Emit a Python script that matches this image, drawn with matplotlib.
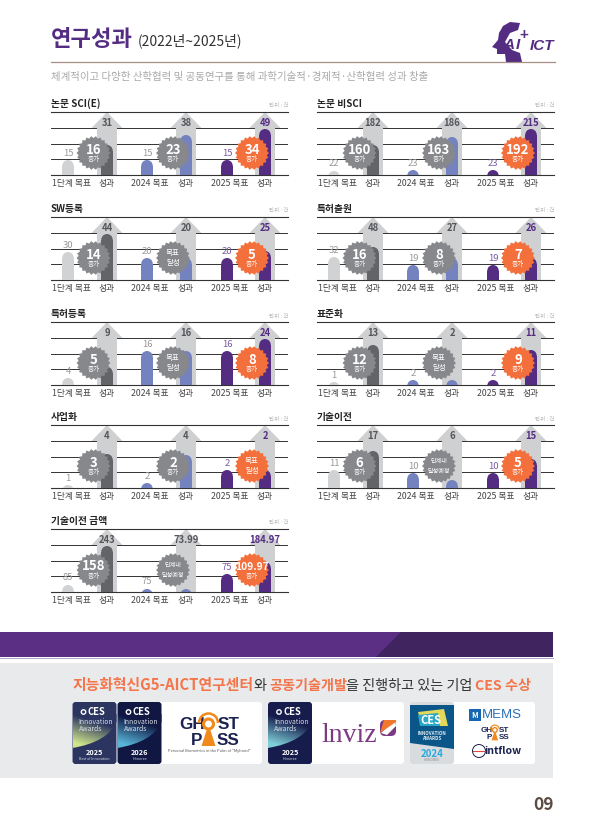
import numpy as np
import matplotlib
matplotlib.use("Agg")
import matplotlib.pyplot as plt
from matplotlib.patches import FancyBboxPatch, Circle, PathPatch, Polygon, Arc
from matplotlib.path import Path

plt.rcParams['font.family'] = ['Noto Sans CJK KR', 'DejaVu Sans']

# data
panel_titles = ["논문 SCI(E)", "논문 비SCI", "SW등록", "특허출원", "특허등록", "표준화", "사업화", "기술이전", "기술이전 금액"]
target_1 = ["15", "22", "30", "32", "4", "1", "1", "11", "85"]
result_1 = ["31", "182", "44", "48", "9", "13", "4", "17", "243"]
target_2 = ["15", "23", "20", "19", "16", "2", "2", "10", "75"]
result_2 = ["38", "186", "20", "27", "16", "2", "4", "6", "73.99"]
target_3 = ["15", "23", "20", "19", "16", "2", "2", "10", "75"]
result_3 = ["49", "215", "25", "26", "24", "11", "2", "15", "184.97"]
# drawn height of the bars, the page scales every group by itself
height_t1 = [15, 4, 28, 23, 7, 3, 3, 18, 7]
height_r1 = [30, 30, 46, 33, 18, 40, 34, 37, 46]
height_t2 = [15, 5, 22, 15, 34, 5, 5, 15, 3]
height_r2 = [40, 38, 22, 22, 34, 5, 33, 8, 3]
height_t3 = [15, 5, 22, 15, 34, 5, 18, 15, 18]
height_r3 = [46, 46, 29, 22, 46, 35, 18, 29, 30]
badge_1 = ["16", "160", "14", "16", "5", "12", "3", "6", "158"]
badge_2 = ["23", "163", "목표\n달성", "8", "목표\n달성", "목표\n달성", "2", "단계내\n달성예정", "단계내\n달성예정"]
badge_3 = ["34", "192", "5", "7", "8", "9", "목표\n달성", "5", "109.97"]
x_labels = ["1단계 목표", "성과", "2024 목표", "성과", "2025 목표", "성과"]

panel_left = [51, 317]
panel_base = [175, 280, 385, 488, 592]
panel_w = 237
panel_h = 63
bar_x = np.array([17, 56, 96, 135, 176, 214])
label_x = bar_x + np.array([3, 0, 3, 0, 3, 0])
bar_w = 11.5

c_light = "#d1d2d4"
c_dark = "#636468"
c_blue = "#7483bf"
c_purple = "#542d83"
c_arrow = "#cfd0d2"
c_badge = "#87888b"
c_orange = "#f36f3c"

fig = plt.figure(figsize=(5.95, 8.38), dpi=100)
page = fig.add_axes([0, 0, 1, 1])


def round_bar(ax, x, h, color):
    r = bar_w / 2
    if h > r:
        ax.bar(x, h - r, bar_w, color=color, zorder=3)
    ax.add_patch(Circle((x, h - r), r, color=color, lw=0, zorder=3))


def up_arrow(ax, x):
    xs = [x - 10, x - 10, x - 15.5, x, x + 15.5, x + 10, x + 10]
    ys = [0, 47, 47, 63, 47, 47, 0]
    ax.fill(xs, ys, color=c_arrow, lw=0, zorder=2)


def badge(ax, x, y, txt, color):
    n = 22
    ang = np.linspace(0, 2 * np.pi, n * 2, endpoint=False)
    rad = np.where(np.arange(n * 2) % 2 == 0, 17, 15)
    ax.fill(x + rad * np.cos(ang), y + rad * np.sin(ang), color=color, lw=0, zorder=5)
    if "\n" in txt:
        small = 4.4 if len(txt) > 6 else 5.4
        ax.text(x, y, txt, color="white", fontsize=small, ha="center", va="center", linespacing=1.25, zorder=6)
    else:
        big = 7.4 if len(txt) > 4 else 9.5
        ax.text(x, y + 3.5, txt, color="white", fontsize=big, fontweight="bold", ha="center", va="center", zorder=6)
        ax.text(x, y - 6, "증가", color="white", fontsize=4.8, ha="center", va="center", zorder=6)


for i, title in enumerate(panel_titles):
    left = panel_left[i % 2]
    base = panel_base[i // 2]
    ax = fig.add_axes([left / 595, (838 - base) / 838, panel_w / 595, panel_h / 838])
    ax.patch.set_visible(False)
    ax.set_xlim(0, panel_w)
    ax.set_ylim(0, panel_h)
    for s in ["left", "right"]:
        ax.spines[s].set_visible(False)
    for s in ["top", "bottom"]:
        ax.spines[s].set_linewidth(0.8)
        ax.spines[s].set_color("#333333")
    ax.set_yticks([16, 31, 47])
    ax.set_yticklabels([])
    ax.grid(axis="y", color="#333333", lw=0.7)
    ax.set_axisbelow(True)
    ax.tick_params(length=0)
    ax.set_xticks(label_x, x_labels, fontsize=6.3, color="#444444")
    ax.tick_params(axis="x", pad=3)

    heights = [height_t1[i], height_r1[i], height_t2[i], height_r2[i], height_t3[i], height_r3[i]]
    colors = [c_light, c_dark, c_blue, c_blue, c_purple, c_purple]
    labels = [target_1[i], result_1[i], target_2[i], result_2[i], target_3[i], result_3[i]]
    for j in range(6):
        if j % 2 == 1:
            up_arrow(ax, bar_x[j])
    for j in range(6):
        round_bar(ax, bar_x[j], heights[j], colors[j])
        if j % 2 == 0:
            tcol = "#7a5aa5" if j == 4 else "#999999"
            ax.text(bar_x[j], heights[j] + 7, labels[j], color=tcol, fontsize=6.8, ha="center", va="center", zorder=4)
        else:
            tcol = c_purple if j == 5 else "#55565a"
            ax.text(bar_x[j], 52, labels[j], color=tcol, fontsize=6.8, fontweight="bold", ha="center", va="center", zorder=4)
    badge(ax, bar_x[1] - 13.5, 22, badge_1[i], c_badge)
    badge(ax, bar_x[3] - 13, 22, badge_2[i], c_badge)
    badge(ax, bar_x[5] - 13, 22, badge_3[i], c_orange)
    ax.text(0, 71, title, fontsize=7, fontweight="bold", color="#222222", ha="left", va="center", clip_on=False)
    ax.text(panel_w, 69, "단위 : 건", fontsize=4, color="#b5b5b5", ha="right", va="center", clip_on=False)

# header
page.text(51, 39.5, "연구성과", fontsize=16, fontweight="bold", color=c_purple, va="center")
page.text(138, 41, "(2022년~2025년)", fontsize=10, color="#333333", va="center")
page.plot([51, 555], [62, 62], color="#a88f85", lw=0.9)
page.text(51, 76.5, "체계적이고 다양한 산학협력 및 공동연구를 통해 과학기술적·경제적·산학협력 성과 창출",
          fontsize=7.55, color="#a9a9a9", va="center")

# logo
head = [(520, 23), (510, 22), (503, 26), (499, 33), (498, 40), (492, 47), (497, 49), (497, 54), (505, 54),
        (506, 62), (522, 62), (520, 53), (512, 50), (505, 42), (510, 33), (518, 30)]
page.add_patch(Polygon(head, closed=True, color=c_purple, lw=0))
page.text(509, 45, "A", fontsize=11, fontweight="bold", style="italic", family="Liberation Sans", color=c_purple,
          ha="center", va="center", zorder=4)
page.text(518, 45, "I", fontsize=11, fontweight="bold", style="italic", family="Liberation Sans", color=c_purple,
          ha="center", va="center", zorder=4)
page.text(524, 35, "+", fontsize=11, fontweight="bold", family="Liberation Sans", color=c_purple, ha="center", va="center")
page.text(542, 46, "ICT", fontsize=11, fontweight="bold", style="italic", family="Liberation Sans", color=c_purple,
          ha="center", va="center")

# purple band
page.fill([0, 553, 553, 0], [632, 632, 657, 657], color="#5a2f84", lw=0)
page.fill([401, 553, 553, 376], [632, 632, 657, 657], color="#3f2460", lw=0)
page.plot([0, 553], [657.5, 657.5], color="#b7a5cd", lw=0.7)

# gray box
page.fill([0, 553, 553, 0], [663, 663, 778, 778], color="#e9eaec", lw=0)
c_head = "#f4754a"
head_parts = [(73, "지능화혁신G5-AICT연구센터", c_head, "bold", 10.7), (253.5, "와", "#333333", "normal", 10.2),
              (269.5, "공동기술개발", c_head, "bold", 10.2), (345.5, "을 진행하고 있는 기업", "#333333", "normal", 10.2),
              (475, "CES 수상", c_head, "bold", 10.2)]
for hx, hs, hc, hw, hf in head_parts:
    page.text(hx, 690, hs, fontsize=hf, color=hc, fontweight=hw, va="baseline")


def card(x0, x1):
    page.add_patch(FancyBboxPatch((x0, 702), x1 - x0, 62, boxstyle="round,pad=0,rounding_size=3", fc="white", ec="none"))


def ces_badge(x, year, sub, dark, glow):
    w = 44
    y0, y1 = 702, 764
    box = FancyBboxPatch((x, y0), w, y1 - y0, boxstyle="round,pad=0,rounding_size=3", fc=dark, ec="none", zorder=2)
    page.add_patch(box)
    verts = [(x, y0 + 12), (x + w, y0 + 12), (x + w, y0 + 20), (x + w * 0.8, y0 + 40), (x, y0 + 46), (x, y0 + 12)]
    codes = [Path.MOVETO, Path.LINETO, Path.LINETO, Path.CURVE3, Path.CURVE3, Path.CLOSEPOLY]
    clip = PathPatch(Path(verts, codes), fc="none", ec="none", transform=page.transData)
    page.add_patch(clip)
    g = np.linspace(0, 1, 40)
    xx, yy = np.meshgrid(g, g)
    t = np.clip((yy * 1.2 - xx * 0.5), 0, 1)[..., None]
    img = np.array(matplotlib.colors.to_rgb(dark)) * (1 - t) + np.array(matplotlib.colors.to_rgb(glow)) * t
    im = page.imshow(img, extent=(x, x + w, y0 + 46, y0 + 12), aspect="auto", zorder=3)
    im.set_clip_path(clip)
    page.text(x + 24, y0 + 10, "CES", fontsize=6.8, fontweight="bold", color="white", ha="center", va="center", zorder=4)
    page.add_patch(Circle((x + 11, y0 + 10), 2.2, fc="none", ec="white", lw=1, zorder=4))
    page.text(x + 6, y0 + 20, "Innovation", fontsize=4.9, color="#d5dbe6", va="center", zorder=4)
    page.text(x + 6, y0 + 27, "Awards", fontsize=4.9, color="#d5dbe6", va="center", zorder=4)
    page.text(x + 22, y0 + 50, year, fontsize=5.2, fontweight="bold", color="white", ha="center", va="center", zorder=4)
    page.text(x + 22, y0 + 56.5, sub, fontsize=2.6, color="#d5dbe6", ha="center", va="center", zorder=4)


def ghost_pass(x0, y0, s, w_tag=True):
    # x0, y0 = left end and centre of the top word, s = scale against the big logo
    navy = "#1b2150"
    orange = "#f08a1d"
    fs = 12.3 * s
    kw = dict(fontsize=fs, fontweight="bold", family="Liberation Sans", color=navy, va="center", zorder=3)
    page.text(x0, y0, "GH", ha="left", **kw)
    page.text(x0 + 60 * s, y0, "ST", ha="right", **kw)
    page.text(x0 + 12 * s, y0 + 16.5 * s, "P", ha="left", **kw)
    page.text(x0 + 60 * s, y0 + 16.5 * s, "SS", ha="right", **kw)
    cx = x0 + 29.5 * s
    page.add_patch(Circle((cx, y0), 5 * s, fc="none", ec=orange, lw=2.2 * s, zorder=3))
    page.add_patch(Arc((cx, y0 - 1 * s), 19 * s, 19 * s, theta1=180, theta2=360, ec=orange, lw=1.8 * s, zorder=3))
    page.fill([cx - 1.5 * s, cx + 1.5 * s, cx + 7 * s, cx - 7 * s],
              [y0 + 5 * s, y0 + 5 * s, y0 + 22 * s, y0 + 22 * s], color=orange, lw=0, zorder=3)
    if w_tag:
        page.text(x0 + 30 * s, y0 + 27 * s, "Personal Biometrics in the Palm of \"Myhand\"", fontsize=2.8, color="#555555",
                  ha="center", va="center")


card(72.5, 262)
card(268, 404)
card(410, 535)
ces_badge(72.5, "2025", "Best of Innovation", "#2b3560", "#cfe58a")
ces_badge(117.5, "2026", "Honoree", "#101742", "#58b5d8")
ces_badge(268, "2025", "Honoree", "#161d4c", "#7fcfd8")
ghost_pass(179, 724, 1.0)

page.text(349, 735, "lnviz", fontsize=20, color="#7c3a82", family="Liberation Serif", ha="center", va="center")
page.add_patch(FancyBboxPatch((380, 720), 16, 16, boxstyle="round,pad=0,rounding_size=5", fc="#7c3a82", ec="none"))
page.fill([381, 395, 396, 387], [733, 720, 726, 735], color="white", lw=0, zorder=3)
page.fill([384, 396, 396, 380], [720, 720, 722, 733], color="#f0782f", lw=0, zorder=3)

# CES 2024 badge
page.add_patch(FancyBboxPatch((410, 702), 44, 62, boxstyle="round,pad=0,rounding_size=3", fc="#d9dcdf", ec="none", zorder=2))
page.fill([410, 454, 454, 410], [705, 705, 749, 743], color="#0b5688", lw=0, zorder=3)
page.fill([418, 444, 448, 422], [712, 709, 726, 726], color="#e2d85a", lw=0, zorder=3)
page.fill([418, 438, 440, 420], [715, 713, 726, 726], color="#2aa7c4", lw=0, zorder=3)
page.text(431, 720, "CES", fontsize=8, fontweight="bold", color="white", ha="center", va="center", zorder=4)
page.text(432, 733, "INNOVATION", fontsize=3.3, fontweight="bold", color="#dfe8ef", ha="center", va="center", zorder=4)
page.text(432, 738.5, "AWARDS", fontsize=3.3, fontweight="bold", color="#dfe8ef", ha="center", va="center", zorder=4)
page.text(432, 754, "2024", fontsize=7, fontweight="bold", color="#29a8e0", ha="center", va="center", zorder=4)
page.text(432, 760, "HONOREE", fontsize=2.4, color="#888888", ha="center", va="center", zorder=4)

# small logos
page.fill([469, 481, 481, 469], [709, 709, 721, 721], color="#1467b0", lw=0)
page.text(475, 715, "M", fontsize=5.5, fontweight="bold", color="white", ha="center", va="center")
page.text(502, 715, "MEMS", fontsize=9.5, color="#2a6fb7", family="Liberation Sans", ha="center", va="center")
ghost_pass(481, 730, 0.47, w_tag=False)
page.add_patch(Circle((479, 751), 6.5, fc="white", ec="#1b2150", lw=0.7))
page.plot([473, 485], [751, 751], color="#e0483f", lw=0.8)
page.text(503, 751, "intflow", fontsize=7.5, fontweight="bold", color="#1b2150", ha="center", va="center")

# page number
page.text(554, 805, "09", fontsize=12.5, fontweight="bold", color="#5c4a42", ha="right", va="center")

page.set_xlim(0, 595)
page.set_ylim(838, 0)
page.axis("off")

fig.savefig("out.png", dpi=100)
